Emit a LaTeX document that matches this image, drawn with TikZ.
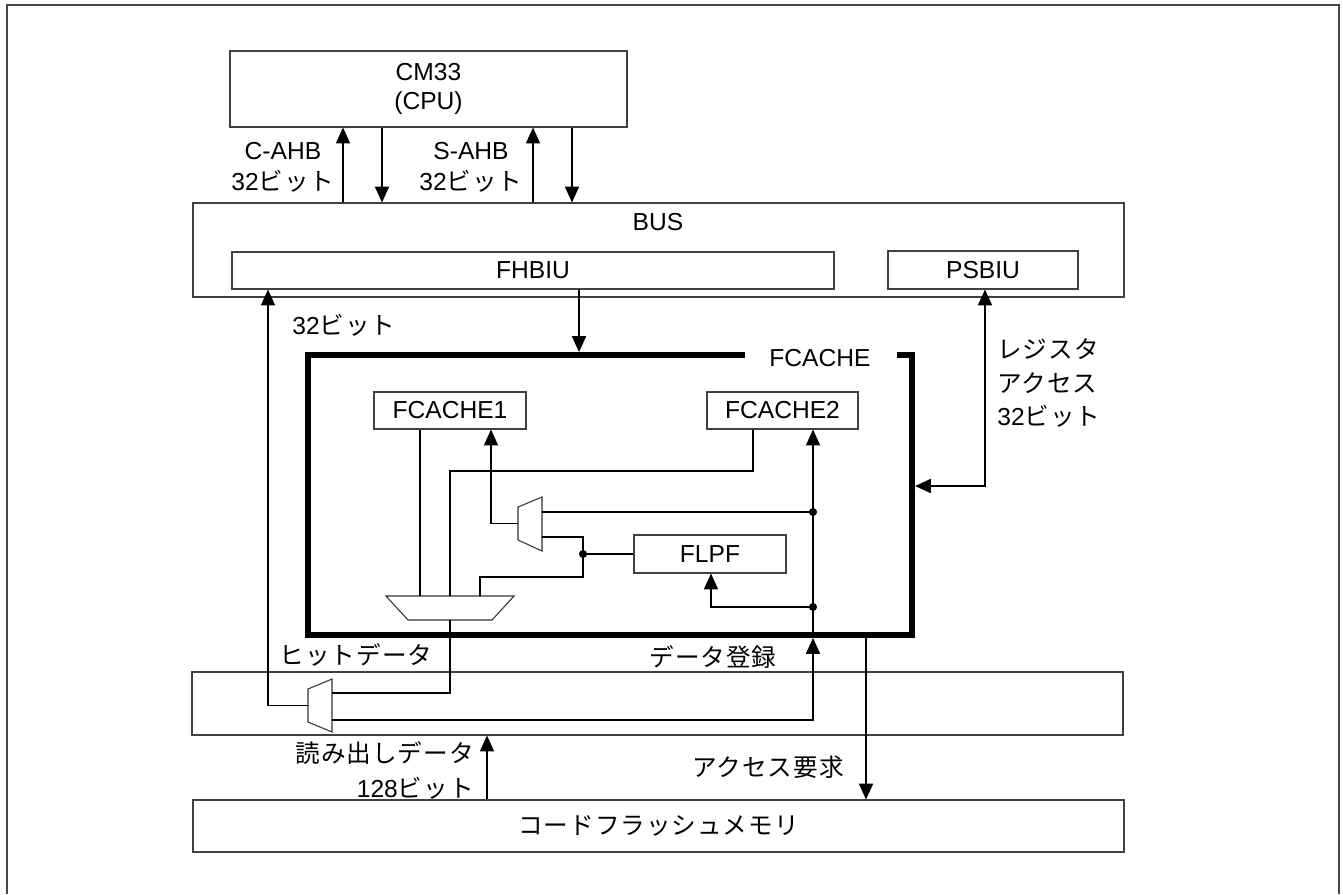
\documentclass[tikz,border=0pt]{standalone}
\usepackage{fontspec}
\setmainfont{Liberation Sans}
\newfontfamily\jp[LetterSpace=4]{Noto Sans CJK JP}
\usetikzlibrary{arrows.meta,fit,calc}
\tikzset{
  frame/.style={draw=black!72,line width=1.1pt},
  blk/.style={draw=black!75,line width=.6pt,inner sep=0pt,fit={#1}},
  fcline/.style={line width=3pt,line join=miter},
  wire/.style={line width=.85pt},
  arr/.style={wire,-{Triangle[length=9pt,width=8pt]}},
  dbl/.style={wire,{Triangle[length=9pt,width=8pt]}-{Triangle[length=9pt,width=8pt]}},
  muxs/.style={draw=black!80,line width=.6pt,line join=miter},
  dot/.style={circle,fill=black,inner sep=0pt,minimum size=4.6pt},
  lbl/.style={inner sep=0pt,font=\fontsize{14}{17.6}\selectfont},
}
\begin{document}
\begin{tikzpicture}[x=0.02cm,y=-0.02cm]
  \useasboundingbox (0,0) rectangle (1343,894);
  % ---------------- outer frame
  \draw[frame] (7,894) -- (7,5) -- (1339,5) -- (1339,894);

  % ---------------- blocks
  \node[blk={(230,51) (627,127)},
    label={[lbl,align=center,font=\fontsize{14}{16.5}\selectfont]center:{CM33\\(CPU)}}] (cpu) {};
  \node[blk={(193,203) (1124,297)}] (bus) {};
  \node[lbl] (buslbl) at (658,222) {BUS};
  \node[blk={(232,252) (834,289)},label={[lbl]center:FHBIU}] (fhbiu) {};
  \node[blk={(888,251) (1078,289)},label={[lbl]center:PSBIU}] (psbiu) {};
  \node[blk={(374,392) (526,429)},label={[lbl]center:FCACHE1}] (fc1) {};
  \node[blk={(707,392) (858,429)},label={[lbl]center:FCACHE2}] (fc2) {};
  \node[blk={(634,535) (786,573)},label={[lbl]center:FLPF}] (flpf) {};
  \node[blk={(192,672) (1123,735)}] (sel) {};
  \node[blk={(193,800) (1124,852)},label={[lbl]center:{\jp コードフラッシュメモリ}}] (flash) {};

  % FCACHE frame (open at the label)
  \node[fit={(308,355) (912,635)},inner sep=1.5pt] (fc) {};
  \draw[fcline] (745,355) -- (308,355) -- (308,635) -- (912,635) -- (912,355) -- (897,355);
  \node[lbl] (fclbl) at (820,358) {FCACHE};

  % ---------------- selectors
  \draw[muxs] (518,507) -- (542,497) -- (542,551) -- (518,540) -- cycle;
  \draw[muxs] (386,596) -- (514,596) -- (492,620) -- (408,620) -- cycle;
  \draw[muxs] (308,689) -- (332,679) -- (332,732) -- (308,722) -- cycle;
  \coordinate (m1o) at (518,523.5);
  \coordinate (m1a) at (542,512);
  \coordinate (m1b) at (542,537);
  \coordinate (m0a) at (420,596);
  \coordinate (m0b) at (450,596);
  \coordinate (m0c) at (480,596);
  \coordinate (m0o) at (450,620);
  \coordinate (m2o) at (308,705.5);
  \coordinate (m2a) at (332,693);
  \coordinate (m2b) at (332,720);

  % columns and bends
  \foreach \n/\x/\y in {xca/343/0,xcd/382/0,xsa/533/0,xsd/572/0,xfd/579/0,xhit/268/0,
      xreq/866/0,xrd/487/0,k1/753/471,k2/491/523.5,k3/583/577,k4/711/607,regc/985/486}{
    \coordinate (\n) at (\x,\y);
  }
  \node[dot] (j1) at (813,512) {};
  \node[dot] (j2) at (813,607) {};
  \node[dot] (j3) at (583,554) {};

  % ---------------- CPU <-> BUS
  \draw[arr] (bus.north -| xca) -- (cpu.south -| xca);
  \draw[arr] (cpu.south -| xcd) -- (bus.north -| xcd);
  \draw[arr] (bus.north -| xsa) -- (cpu.south -| xsa);
  \draw[arr] (cpu.south -| xsd) -- (bus.north -| xsd);

  % ---------------- BUS <-> FCACHE
  \draw[arr] (fhbiu.south -| xfd) -- (fc.north -| xfd);
  \draw[dbl] (fc.east |- regc) -- (regc) -- (psbiu.south -| regc);
  \draw[arr] (m2o) -| (fhbiu.south -| xhit);

  % ---------------- inside FCACHE
  \draw[wire] (fc1.south -| m0a) -- (m0a);
  \draw[wire] (fc2.south -| k1) -- (k1) -| (m0b);
  \draw[arr] (m1o) -- (k2) -- (fc1.south -| k2);
  \draw[wire] (j1.center) -- (m1a);
  \draw[wire] (m1b) -| (k3) -| (m0c);
  \draw[wire] (j3.center) -- (flpf.west);
  \draw[arr] (fc.south -| j1) -- (fc2.south -| j1);
  \draw[arr] (j2.center) -- (k4) -- (flpf.south -| k4);

  % ---------------- hit / entry paths
  \draw[wire] (m0o) |- (m2a);
  \draw[arr] (m2b) -| (fc.south -| j1);
  \draw[arr] (fc.south -| xreq) -- (flash.north -| xreq);
  \draw[arr] (flash.north -| xrd) -- (sel.south -| xrd);

  % ---------------- labels
  \node[lbl,align=center] (cahbl) at (283,167) {C-AHB\\32{\jp ビット}};
  \node[lbl,align=center] (sahbl) at (471,167) {S-AHB\\32{\jp ビット}};
  \node[lbl,anchor=west] (fhl) at (292,325) {32{\jp ビット}};
  \node[lbl,align=left,anchor=west,font=\fontsize{14}{19}\selectfont] (regl) at (997,383)
    {{\jp レジスタ}\\{\jp アクセス}\\32{\jp ビット}};
  \node[lbl] (hitl) at (356,655) {\jp ヒットデータ};
  \node[lbl] (entl) at (713,657) {\jp データ登録};
  \node[lbl,align=right,anchor=east,font=\fontsize{14}{20}\selectfont] (rdl) at (474,770)
    {{\jp 読み出しデータ}\\128{\jp ビット}};
  \node[lbl] (reql) at (768,767) {\jp アクセス要求};
\end{tikzpicture}
\end{document}
